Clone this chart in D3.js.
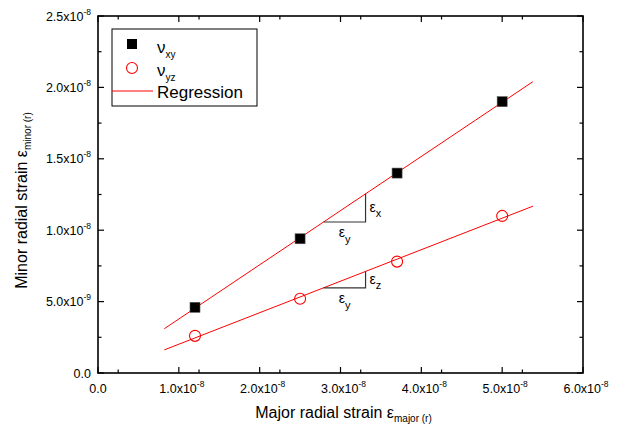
<!DOCTYPE html>
<meta charset="utf-8">
<html>
  <head>
    <style>
      body { margin: 0; background: #fff; }
      text { font-family: Arial, "Liberation Sans", sans-serif; fill: #000; }
      .tick-label { font-size: 12.5px; }
      .frame { fill: none; stroke: #000; stroke-width: 1.6px; }
      .tick { stroke: #000; stroke-width: 1.2px; }
      .reg { fill: none; stroke: #ff0000; stroke-width: 1px; }
      .tri { fill: none; stroke: #333; stroke-width: 1.2px; }
    </style>
    <script src="https://d3js.org/d3.v7.min.js"></script>
  </head>
  <body>
    <div id="chart"></div>
    <script type="text/javascript">
      // values
      var majorStrain = [1.2e-8, 2.5e-8, 3.7e-8, 5.0e-8],
          nuXY = [4.6e-9, 9.4e-9, 1.4e-8, 1.9e-8],
          nuYZ = [2.6e-9, 5.2e-9, 7.8e-9, 1.1e-8],
          regExtent = [0.82e-8, 5.38e-8],
          triangleX = [2.79e-8, 3.31e-8],
          xTicks = [0, 1e-8, 2e-8, 3e-8, 4e-8, 5e-8, 6e-8],
          xTickLabels = [["0.0", ""], ["1.0x10", "-8"], ["2.0x10", "-8"], ["3.0x10", "-8"], ["4.0x10", "-8"], ["5.0x10", "-8"], ["6.0x10", "-8"]],
          yTicks = [0, 0.5e-8, 1e-8, 1.5e-8, 2e-8, 2.5e-8],
          yTickLabels = [["0.0", ""], ["5.0x10", "-9"], ["1.0x10", "-8"], ["1.5x10", "-8"], ["2.0x10", "-8"], ["2.5x10", "-8"]];

      var W = 624, H = 435,
          margin = { top: 16, right: 41, bottom: 62, left: 98 },
          width = W - margin.left - margin.right,
          height = H - margin.top - margin.bottom;

      var svg = d3.select("#chart").append("svg")
          .attr("width", W)
          .attr("height", H);

      var g = svg.append("g")
          .attr("transform", "translate(" + margin.left + "," + margin.top + ")");

      var x = d3.scaleLinear().domain([0, 6e-8]).range([0, width]);
      var y = d3.scaleLinear().domain([0, 2.5e-8]).range([height, 0]);

      // ticks, pointing inward on all four sides
      var xMinor = d3.range(0, 12).map(function(i) { return (i + 0.5) * 0.5e-8; }).filter(function(v, i) { return i % 2 === 0; });
      var yMinor = d3.range(0, 5).map(function(i) { return (i + 0.5) * 0.5e-8; });
      var majLen = 6, minLen = 3.5;

      function hTicks(vals, len) {
        vals.forEach(function(v) {
          g.append("line").attr("class", "tick")
            .attr("x1", x(v)).attr("x2", x(v)).attr("y1", height).attr("y2", height - len);
          g.append("line").attr("class", "tick")
            .attr("x1", x(v)).attr("x2", x(v)).attr("y1", 0).attr("y2", len);
        });
      }
      function vTicks(vals, len) {
        vals.forEach(function(v) {
          g.append("line").attr("class", "tick")
            .attr("y1", y(v)).attr("y2", y(v)).attr("x1", 0).attr("x2", len);
          g.append("line").attr("class", "tick")
            .attr("y1", y(v)).attr("y2", y(v)).attr("x1", width).attr("x2", width - len);
        });
      }
      hTicks(xTicks, majLen);
      hTicks(xMinor, minLen);
      vTicks(yTicks, majLen);
      vTicks(yMinor, minLen);

      g.append("rect").attr("class", "frame")
        .attr("x", 0).attr("y", 0).attr("width", width).attr("height", height);

      // tick labels with superscript exponent
      function label(sel, parts) {
        sel.append("tspan").text(parts[0]);
        if (parts[1]) {
          sel.append("tspan").attr("dy", -6).style("font-size", "8.5px").text(parts[1]);
        }
      }
      xTicks.forEach(function(v, i) {
        var t = g.append("text").attr("class", "tick-label")
          .attr("x", x(v) + (i === 0 ? 0 : 3)).attr("y", height + 20)
          .attr("text-anchor", "middle");
        label(t, xTickLabels[i]);
      });
      yTicks.forEach(function(v, i) {
        var t = g.append("text").attr("class", "tick-label")
          .attr("x", -7).attr("y", y(v) + 4.5)
          .attr("text-anchor", "end");
        label(t, yTickLabels[i]);
      });

      // axis titles
      var xt = svg.append("text")
        .attr("x", margin.left + width / 2 + 3).attr("y", 418)
        .attr("text-anchor", "middle").style("font-size", "16px");
      xt.append("tspan").text("Major radial strain ");
      xt.append("tspan").text("ε");
      xt.append("tspan").attr("dy", 4).style("font-size", "10px").text("major (r)");

      var yt = svg.append("text")
        .attr("transform", "translate(27," + (margin.top + height / 2 + 6) + ") rotate(-90)")
        .attr("text-anchor", "middle").style("font-size", "16px");
      yt.append("tspan").text("Minor radial strain ");
      yt.append("tspan").text("ε");
      yt.append("tspan").attr("dy", 4).style("font-size", "10px").text("minor (r)");

      // regression lines (least squares on the data)
      function fit(ys) {
        var mx = d3.mean(majorStrain), my = d3.mean(ys);
        var sxy = d3.sum(majorStrain, function(v, i) { return (v - mx) * (ys[i] - my); });
        var sxx = d3.sum(majorStrain, function(v) { return (v - mx) * (v - mx); });
        var b = sxy / sxx;
        return function(v) { return my + b * (v - mx); };
      }
      var fXY = fit(nuXY), fYZ = fit(nuYZ);
      var line = d3.line().x(function(d) { return x(d[0]); }).y(function(d) { return y(d[1]); });
      [fXY, fYZ].forEach(function(f) {
        g.append("path").attr("class", "reg")
          .attr("d", line(regExtent.map(function(v) { return [v, f(v)]; })));
      });

      // slope triangles
      function triangle(f, sub, dyTop) {
        var x0 = triangleX[0], x1 = triangleX[1];
        g.append("path").attr("class", "tri")
          .attr("d", line([[x0, f(x0)], [x1, f(x0)], [x1, f(x1)]]));
        var ym = (y(f(x0)) + y(f(x1))) / 2;
        var t1 = g.append("text").attr("x", x(x1) + 4).attr("y", ym + 4).style("font-size", "14px");
        t1.append("tspan").text("ε");
        t1.append("tspan").attr("dy", 5).style("font-size", "11px").text(sub);
        var t2 = g.append("text").attr("x", (x(x0) + x(x1)) / 2).attr("y", y(f(x0)) + 15)
          .attr("text-anchor", "middle").style("font-size", "14px");
        t2.append("tspan").text("ε");
        t2.append("tspan").attr("dy", 6).style("font-size", "11px").text("y");
      }
      triangle(fXY, "x");
      triangle(fYZ, "z");

      // markers
      g.selectAll(".sq").data(majorStrain).enter().append("rect")
        .attr("class", "sq")
        .attr("x", function(d) { return x(d) - 5; })
        .attr("y", function(d, i) { return y(nuXY[i]) - 5; })
        .attr("width", 10).attr("height", 10)
        .attr("fill", "#000").attr("stroke", "#555").attr("stroke-width", 0.6);

      g.selectAll(".circ").data(majorStrain).enter().append("circle")
        .attr("class", "circ")
        .attr("cx", function(d) { return x(d); })
        .attr("cy", function(d, i) { return y(nuYZ[i]); })
        .attr("r", 5.5)
        .attr("fill", "none").attr("stroke", "#ff0000").attr("stroke-width", 1.1);

      // legend
      var lg = svg.append("g").attr("transform", "translate(112,29)");
      lg.append("rect").attr("width", 145).attr("height", 77)
        .attr("fill", "#fff").attr("stroke", "#000").attr("stroke-width", 1);
      lg.append("rect").attr("x", 15).attr("y", 10).attr("width", 10).attr("height", 10).attr("fill", "#000");
      lg.append("circle").attr("cx", 20).attr("cy", 39).attr("r", 5.5)
        .attr("fill", "none").attr("stroke", "#ff0000").attr("stroke-width", 1.1);
      lg.append("line").attr("x1", 0).attr("x2", 41).attr("y1", 62).attr("y2", 62)
        .attr("stroke", "#ff0000").attr("stroke-width", 1);
      var l1 = lg.append("text").attr("x", 45).attr("y", 24).style("font-size", "17px");
      l1.append("tspan").text("ν");
      l1.append("tspan").attr("dy", 5).style("font-size", "10px").text("xy");
      var l2 = lg.append("text").attr("x", 45).attr("y", 47).style("font-size", "17px");
      l2.append("tspan").text("ν");
      l2.append("tspan").attr("dy", 5).style("font-size", "10px").text("yz");
      lg.append("text").attr("x", 45).attr("y", 69).style("font-size", "17px").text("Regression");
    </script>
  </body>
</html>
